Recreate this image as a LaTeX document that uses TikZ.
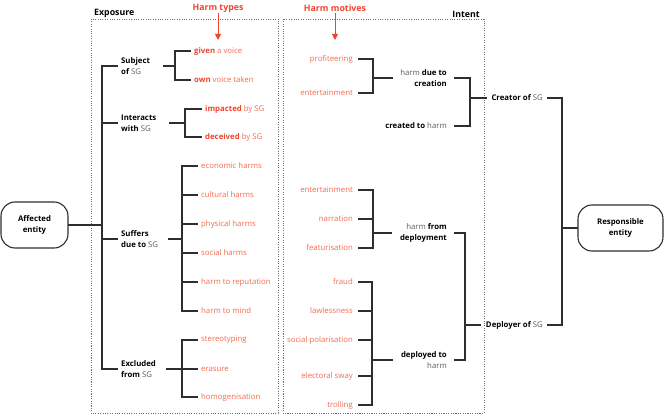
\documentclass[tikz,border=0pt]{standalone}
\usepackage{fontspec}
\setmainfont{Open Sans}
\usetikzlibrary{arrows.meta}
\definecolor{Hr}{HTML}{EE4430}
\definecolor{Ho}{HTML}{F26A4E}
\definecolor{Ln}{HTML}{2E2E2E}
\definecolor{Sg}{HTML}{5A5A5A}
\definecolor{Bx}{HTML}{6E6E6E}
\newcommand{\fs}{\fontsize{7.8}{11}\selectfont}
\newcommand{\lt}[1]{\textcolor{Sg}{\mdseries #1}}
\newcommand{\sgx}{\lt{SG}}
\newcommand{\hb}[1]{\textcolor{Hr}{\bfseries #1}}
\tikzset{
  ent/.style={draw=Ln, line width=1.1pt, rounded corners=14pt, align=center, font=\fs\bfseries, minimum height=46pt},
  cat/.style={anchor=west, align=left, font=\fs\bfseries, inner xsep=4pt, inner ysep=0pt},
  hit/.style={anchor=west, text=Ho, font=\fs, inner xsep=4pt, inner ysep=1pt},
  mot/.style={anchor=east, text=Ho, font=\fs, inner xsep=6pt, inner ysep=1pt},
  itn/.style={anchor=east, align=right, font=\fontsize{7.8}{11.5}\selectfont\bfseries, inner xsep=8pt, inner ysep=0pt},
  rol/.style={anchor=east, font=\fs\bfseries, inner xsep=5pt},
  head/.style={font=\fontsize{8.8}{10}\selectfont\bfseries, inner sep=1pt},
  link/.style={draw=Ln, line width=1.1pt, line cap=rect},
  box/.style={draw=Bx, line width=0.9pt, dash pattern=on 1.1pt off 1.3pt},
  pointer/.style={draw=Hr, line width=1pt, -{Triangle[length=6pt, width=6pt]}},
}

\begin{document}
\begin{tikzpicture}[x=1pt, y=-1pt]
  \useasboundingbox (0,0) rectangle (664,417);
  % frames and headings
  \draw[box] (91,19) rectangle (278,413);
  \draw[box] (283,19) rectangle (484,413);
  \node[head, anchor=south west] (expo) at (93,19) {Exposure};
  \node[head, anchor=south east] (intn) at (481,19) {Intent};
  \node[head, text=Hr] (htypes) at (218,8) {Harm types};
  \node[head, text=Hr] (hmotiv) at (335,8) {Harm motives};
  \coordinate (htTip) at (218,40);
  \coordinate (hmTip) at (335,40);
  \draw[pointer] (htypes) -- (htTip);
  \draw[pointer] (hmotiv) -- (hmTip);
  % entities
  \node[ent, minimum width=67pt] (aff) at (34.5,225) {Affected\\entity};
  \node[ent, minimum width=85pt] (resp) at (620.5,228) {Responsible\\entity};
  % exposure: categories
  \node[cat] (subj) at (117,66) {Subject\\of \sgx};
  \node[cat] (inter) at (117,123) {Interacts\\with \sgx};
  \node[cat] (suff) at (117,239) {Suffers\\due to \sgx};
  \node[cat] (excl) at (117,369) {Excluded\\from \sgx};
  \coordinate (jAff) at (102,225);
  \draw[link] (aff) -- (jAff);
  \draw[link] (jAff |- subj) -- (jAff |- excl);
  \foreach \c in {subj,inter,suff,excl} \draw[link] (jAff |- \c) -- (\c.west);
  % exposure: harm types
  \node[hit] (given) at (190,51) {\hb{given} a voice};
  \node[hit] (own) at (190,80) {\hb{own} voice taken};
  \coordinate (jSub) at (175,66);
  \draw[link, shorten <=9pt] (subj.east) -- (jSub);
  \draw[link] (jSub |- given) -- (jSub |- own);
  \foreach \n in {given,own} \draw[link] (jSub |- \n) -- (\n.west);
  \node[hit] (impd) at (201,109) {\hb{impacted} by SG};
  \node[hit] (decd) at (201,137) {\hb{deceived} by SG};
  \coordinate (jInt) at (185,123);
  \draw[link, shorten <=9pt] (inter.east) -- (jInt);
  \draw[link] (jInt |- impd) -- (jInt |- decd);
  \foreach \n in {impd,decd} \draw[link] (jInt |- \n) -- (\n.west);
  \foreach \t [count=\i] in {economic harms, cultural harms, physical harms, social harms, harm to reputation, harm to mind}
    \node[hit] (suf\i) at (197,{166+29*(\i-1)}) {\t};
  \coordinate (jSuf) at (182,239);
  \draw[link, shorten <=6pt] (suff.east) -- (jSuf);
  \draw[link] (jSuf |- suf1) -- (jSuf |- suf6);
  \foreach \i in {1,...,6} \draw[link] (jSuf |- suf\i) -- (suf\i.west);
  \node[hit] (ster) at (197,340) {stereotyping};
  \node[hit] (eras) at (197,369) {erasure};
  \node[hit] (homo) at (197,397) {homogenisation};
  \coordinate (jExc) at (182,369);
  \draw[link, shorten <=6pt] (excl.east) -- (jExc);
  \draw[link] (jExc |- ster) -- (jExc |- homo);
  \foreach \n in {ster,eras,homo} \draw[link] (jExc |- \n) -- (\n.west);
  % intent: creation
  \node[mot] (mpro) at (359,59) {profiteering};
  \node[mot] (ment) at (359,93) {entertainment};
  \coordinate (jCrt) at (373,78);
  \draw[link] (jCrt |- mpro) -- (jCrt |- ment);
  \foreach \m in {mpro,ment} \draw[link] (\m.east) -- (jCrt |- \m);
  \node[itn] (hdue) at (455,78) {\lt{harm} due to\\creation};
  \node[itn] (cto) at (455,126) {created to \lt{harm}};
  \draw[link] (jCrt) -- (hdue.west);
  \coordinate (jCre) at (470,98);
  \draw[link] (jCre |- hdue) -- (jCre |- cto);
  \foreach \m in {hdue,cto} \draw[link] (\m.east) -- (jCre |- \m);
  \node[rol] (creator) at (548,98) {Creator of \sgx};
  \draw[link] (jCre) -- (creator.west);
  % intent: deployment
  \node[mot] (dent) at (359,190) {entertainment};
  \node[mot] (dnar) at (359,219) {narration};
  \node[mot] (dfea) at (359,248) {featurisation};
  \coordinate (jFrm) at (373,233);
  \draw[link] (jFrm |- dent) -- (jFrm |- dfea);
  \foreach \m in {dent,dnar,dfea} \draw[link] (\m.east) -- (jFrm |- \m);
  \node[itn] (hfrom) at (455,233) {\lt{harm} from\\deployment};
  \draw[link] (jFrm) -- (hfrom.west);
  \node[mot] (mfra) at (359,282) {fraud};
  \node[mot] (mlaw) at (359,311) {lawlessness};
  \node[mot] (mpol) at (359,340) {social polarisation};
  \node[mot] (mele) at (359,376) {electoral sway};
  \node[mot] (mtro) at (359,405) {trolling};
  \coordinate (jTo) at (372,360);
  \draw[link] (jTo |- mfra) -- (jTo |- mtro);
  \foreach \m in {mfra,mlaw,mpol,mele,mtro} \draw[link] (\m.east) -- (jTo |- \m);
  \node[itn] (dto) at (455,360) {deployed to\\\lt{harm}};
  \draw[link] (jTo) -- (dto.west);
  \coordinate (jDpl) at (465,325);
  \draw[link] (jDpl |- hfrom) -- (jDpl |- dto);
  \foreach \m in {hfrom,dto} \draw[link] (\m.east) -- (jDpl |- \m);
  \node[rol] (deployer) at (548,325) {Deployer of \sgx};
  \draw[link] (jDpl) -- (deployer.west);
  % responsible entity
  \coordinate (jRes) at (562,228);
  \draw[link] (jRes |- creator) -- (jRes |- deployer);
  \foreach \m in {creator,deployer} \draw[link] (\m.east) -- (jRes |- \m);
  \draw[link] (jRes) -- (resp);
\end{tikzpicture}
\end{document}
